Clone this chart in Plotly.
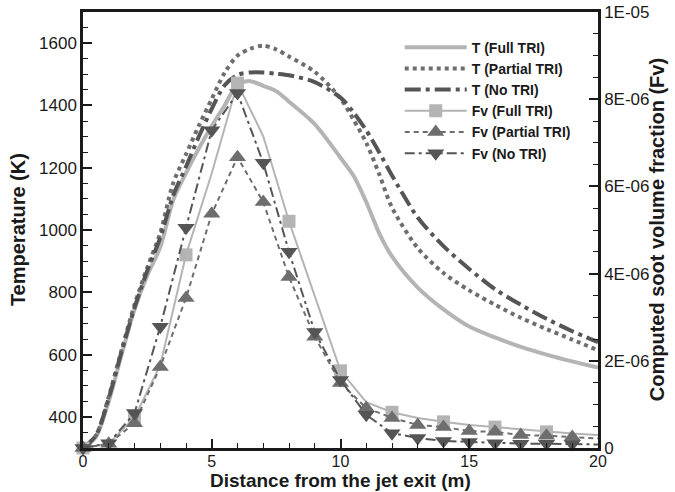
import plotly.graph_objects as go

# ---- data ----
x_T = [0, 0.5, 1, 1.5, 2, 2.5, 3, 3.5, 4, 4.5, 5, 5.5, 6, 6.5, 7, 7.5, 8, 9, 10,
       10.5, 11, 11.5, 12, 13, 14, 15, 16, 17, 18, 19, 20]
T_full = [300, 335, 450, 600, 745, 855, 945, 1095, 1183, 1262, 1334, 1400, 1468, 1478,
          1463, 1446, 1412, 1340, 1232, 1175, 1090, 990, 915, 815, 745, 690, 655, 625,
          600, 578, 558]
T_partial = [300, 340, 465, 615, 760, 880, 990, 1150, 1243, 1335, 1421, 1505, 1560, 1582,
             1592, 1580, 1557, 1508, 1422, 1355, 1280, 1180, 1072, 942, 862, 806, 760,
             718, 682, 648, 614]
T_no = [300, 340, 460, 610, 750, 870, 975, 1110, 1203, 1300, 1389, 1465, 1498, 1506,
        1506, 1502, 1497, 1475, 1425, 1378, 1320, 1250, 1175, 1040, 948, 875, 810, 760,
        715, 675, 640]

x_fv = [0, 1, 2, 3, 4, 5, 6, 7, 8, 9, 10, 11, 12, 13, 14, 15, 16, 17, 18, 19, 20]
fv_full = [0, 0.1e-6, 0.7e-6, 1.9e-6, 4.43e-6, 6.3e-6, 8.37e-6, 7.15e-6, 5.2e-6, 3.5e-6,
           1.77e-6, 1.05e-6, 0.82e-6, 0.69e-6, 0.6e-6, 0.53e-6, 0.48e-6, 0.42e-6,
           0.37e-6, 0.33e-6, 0.3e-6]
fv_partial = [0, 0.1e-6, 0.57e-6, 1.86e-6, 3.44e-6, 5.37e-6, 6.67e-6, 5.64e-6, 3.92e-6,
              2.55e-6, 1.49e-6, 0.92e-6, 0.69e-6, 0.53e-6, 0.48e-6, 0.39e-6, 0.37e-6,
              0.3e-6, 0.28e-6, 0.25e-6, 0.22e-6]
fv_no = [0, 0.11e-6, 0.8e-6, 2.78e-6, 5.05e-6, 7.29e-6, 8.14e-6, 6.54e-6, 4.5e-6, 2.66e-6,
         1.56e-6, 0.76e-6, 0.34e-6, 0.23e-6, 0.16e-6, 0.14e-6, 0.11e-6, 0.1e-6, 0.1e-6,
         0.09e-6, 0.08e-6]

x_ticks = [0, 5, 10, 15, 20]
T_ticks = [400, 600, 800, 1000, 1200, 1400, 1600]
fv_ticks = [0, 2e-6, 4e-6, 6e-6, 8e-6, 1e-5]
fv_ticklabels = ["0", "2E-06", "4E-06", "6E-06", "8E-06", "1E-05"]

names = ["T (Full TRI)", "T (Partial TRI)", "T (No TRI)",
         "Fv (Full TRI)", "Fv (Partial TRI)", "Fv (No TRI)"]
x_title = "Distance from the jet exit (m)"
y_title = "Temperature (K)"
y2_title = "Computed soot volume fraction (Fv)"

# ---- styles ----
C_LIGHT = "#b4b4b4"
C_MID = "#6e6e6e"
C_DARK = "#555555"
FONT = "Liberation Sans, Arial, sans-serif"
INK = "#1a1a1a"

fig = go.Figure()

T_styles = [
    (T_full, dict(color=C_LIGHT, width=4, dash="solid")),
    (T_partial, dict(color=C_MID, width=4, dash="4px,4px")),
    (T_no, dict(color=C_DARK, width=4, dash="16px,5px,4px,5px")),
]
for (vals, ln) in T_styles:
    fig.add_trace(go.Scatter(x=x_T, y=vals, mode="lines",
                             line=dict(shape="spline", smoothing=0.8, **ln),
                             showlegend=False, yaxis="y"))

fv_styles = [
    (fv_full, dict(color=C_LIGHT, width=2, dash="solid"),
     dict(symbol="square", color=C_LIGHT, size=13), 2, 18),
    (fv_partial, dict(color=C_MID, width=2, dash="5px,4px"),
     dict(symbol="triangle-up", color=C_MID, size=15), 1, 19),
    (fv_no, dict(color=C_DARK, width=2, dash="10px,4px,3px,4px"),
     dict(symbol="triangle-down", color=C_DARK, size=15), 1, 19),
]
for (vals, ln, mk, step, xmax) in fv_styles:
    fig.add_trace(go.Scatter(x=x_fv, y=vals, mode="lines", line=ln,
                             showlegend=False, yaxis="y2"))
    idx = [i for i, xv in enumerate(x_fv) if xv % step == 0 and xv <= xmax]
    fig.add_trace(go.Scatter(x=[x_fv[i] for i in idx], y=[vals[i] for i in idx],
                             mode="markers", marker=dict(line=dict(width=0), **mk),
                             cliponaxis=False, showlegend=False, yaxis="y2"))

for (vals, ln), nm in zip(T_styles, names[:3]):
    fig.add_trace(go.Scatter(x=[None], y=[None], mode="lines", line=ln,
                             name="<b>" + nm + "</b>"))
for (vals, ln, mk, step, xmax), nm in zip(fv_styles, names[3:]):
    fig.add_trace(go.Scatter(x=[None], y=[None], mode="lines+markers", line=ln,
                             marker=dict(line=dict(width=0), **mk),
                             name="<b>" + nm + "</b>"))

tickfont = dict(family=FONT, size=17, color=INK)
titlefont = dict(family=FONT, size=20, color=INK)

common = dict(ticks="inside", ticklen=9, tickwidth=2, tickcolor=INK, showline=True,
              linecolor=INK, linewidth=2.5, showgrid=False, zeroline=False,
              automargin=False)

fig.update_layout(
    width=675, height=492,
    margin=dict(l=83, r=77, t=12, b=44),
    paper_bgcolor="white", plot_bgcolor="white",
    font=dict(family=FONT, color=INK),
    legend=dict(x=0.615, y=0.955, xanchor="left", yanchor="top", itemwidth=62,
                bgcolor="rgba(0,0,0,0)", tracegroupgap=0,
                font=dict(size=14, color=INK, family=FONT)),
    xaxis=dict(range=[0, 20], tickvals=x_ticks, mirror=True, ticklabelstandoff=-3,
               tickfont=dict(family=FONT, size=16, color=INK),
               minor=dict(dtick=1, ticks="inside", ticklen=5, tickwidth=1,
                          tickcolor=INK, showgrid=False), **common),
    yaxis=dict(range=[300, 1700], tickvals=T_ticks, tickfont=tickfont,
               minor=dict(dtick=50, tick0=0, ticks="inside", ticklen=5, tickwidth=1,
                          tickcolor=INK, showgrid=False), **common),
    yaxis2=dict(range=[0, 1e-5], overlaying="y", side="right", tickvals=fv_ticks,
                ticktext=fv_ticklabels, tickfont=tickfont,
                minor=dict(dtick=5e-7, tick0=0, ticks="inside", ticklen=5, tickwidth=1,
                           tickcolor=INK, showgrid=False), **common),
    annotations=[
        dict(text="<b>" + x_title + "</b>", xref="paper", yref="paper", x=0.5,
             y=-0.1, xanchor="center", yanchor="bottom", showarrow=False,
             font=dict(family=FONT, size=19, color=INK), borderpad=0),
        dict(text="<b>" + y_title + "</b>", xref="paper", yref="paper", x=-0.126,
             y=0.5, xanchor="center", yanchor="middle", textangle=-90,
             showarrow=False, font=titlefont),
        dict(text="<b>" + y2_title + "</b>", xref="paper", yref="paper", x=1.115,
             y=0.5, xanchor="center", yanchor="middle", textangle=-90,
             showarrow=False, font=titlefont),
    ],
)

fig.write_html("out.html")
